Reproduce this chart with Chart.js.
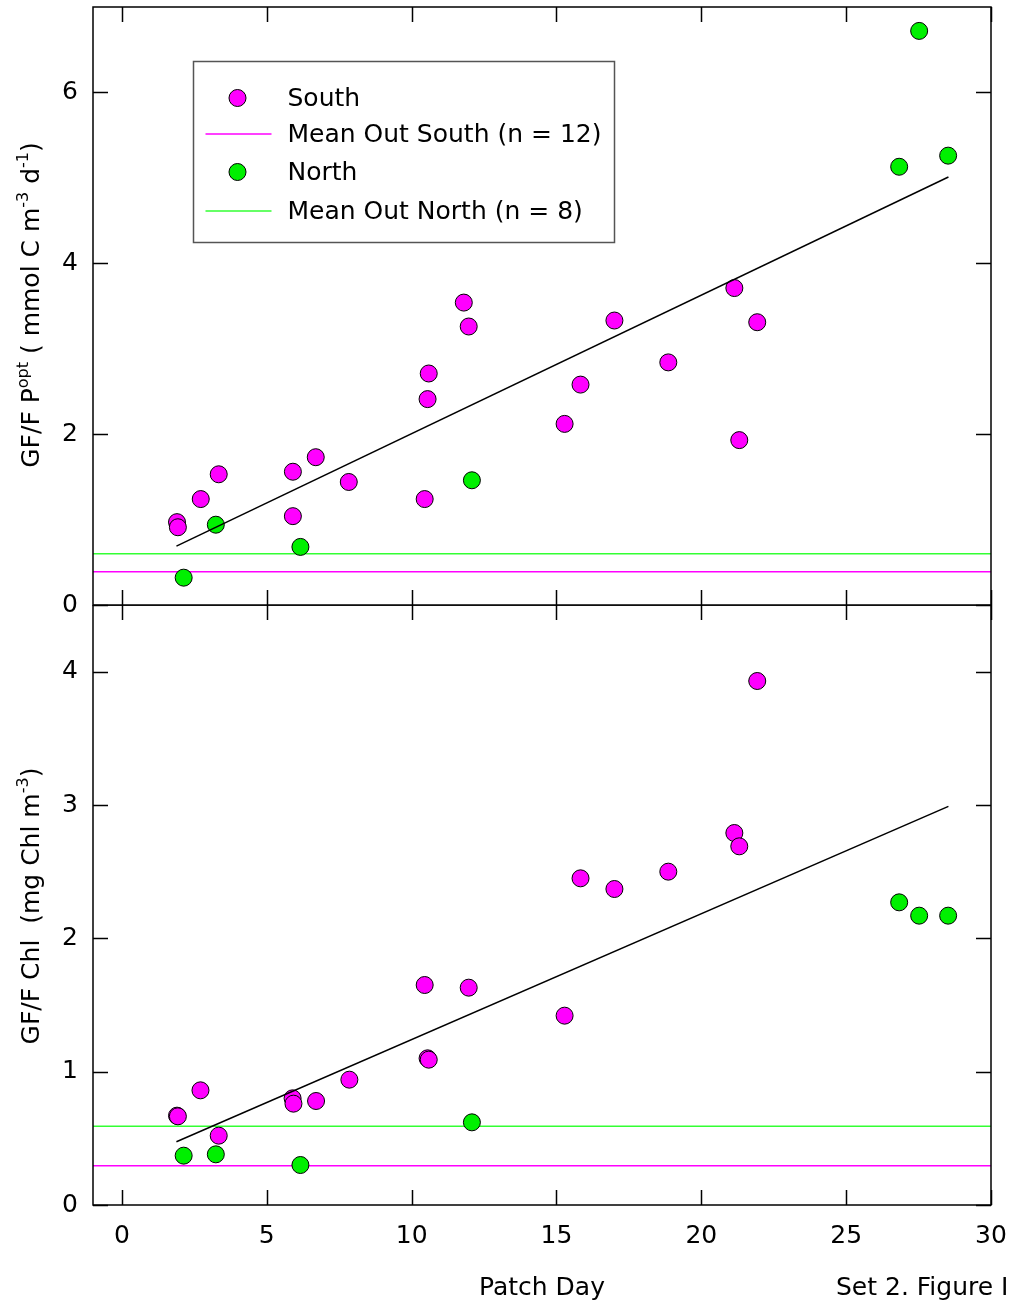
<!DOCTYPE html>
<html>
<head>
<meta charset="utf-8">
<script src="https://cdn.jsdelivr.net/npm/chart.js@4.4.1/dist/chart.umd.min.js"></script>
<style>
  html, body { margin:0; padding:0; background:#fff; }
  body { width:1013px; height:1308px; overflow:hidden; position:relative; font-family:"DejaVu Sans", Arial, sans-serif; color:#000; }
  canvas { position:absolute; left:0; }
  #topCanvas { top:0; }
  #botCanvas { top:605px; }
  .ytitle { position:absolute; width:500px; height:30px; line-height:30px; text-align:center; font-size:25px; white-space:nowrap; transform:rotate(-90deg); }
  .ytitle sup { font-size:16px; vertical-align:baseline; position:relative; top:-11px; }
  #note { position:absolute; left:836px; top:1272px; font-size:25px; white-space:nowrap; }
</style>
</head>
<body>
<canvas id="topCanvas" width="1013" height="640"></canvas>
<canvas id="botCanvas" width="1013" height="703"></canvas>
<div class="ytitle" style="left:-219px; top:290px;">GF/F P<sup>opt</sup> ( mmol C m<sup>-3</sup> d<sup>-1</sup>)</div>
<div class="ytitle" style="left:-219px; top:891px;">GF/F Chl&nbsp; (mg Chl m<sup>-3</sup>)</div>
<div id="note">Set 2. Figure I</div>
<script>
  // === Data ===
  const xTicks = [0, 5, 10, 15, 20, 25, 30];
  const topTicks = [0, 2, 4, 6];
  const botTicks = [0, 1, 2, 3, 4];
  const X_MIN = -1, X_MAX = 30;

  // top panel: GF/F P opt
  const southDayP = [1.9, 1.93, 2.72, 3.34, 5.9, 5.9, 6.69, 7.83, 10.45, 10.55, 10.59, 11.8, 11.97, 15.28, 15.83, 17.0, 18.86, 21.14, 21.31, 21.93];
  const southP    = [0.97, 0.91, 1.24, 1.53, 1.56, 1.04, 1.73, 1.44, 1.24, 2.41, 2.71, 3.54, 3.26, 2.12, 2.58, 3.33, 2.84, 3.71, 1.93, 3.31];
  const northDayP = [2.13, 3.24, 6.16, 12.08, 26.83, 27.52, 28.52];
  const northP    = [0.32, 0.94, 0.68, 1.46, 5.13, 6.72, 5.26];
  const meanSouthP = 0.39;
  const meanNorthP = 0.60;

  // bottom panel: GF/F Chl
  const southDayChl = [1.9, 1.93, 2.71, 3.34, 5.89, 5.92, 6.7, 7.85, 10.45, 10.55, 10.59, 11.97, 15.28, 15.83, 17.0, 18.86, 21.14, 21.31, 21.93];
  const southChl    = [0.67, 0.665, 0.86, 0.52, 0.80, 0.76, 0.78, 0.94, 1.65, 1.10, 1.09, 1.63, 1.42, 2.45, 2.37, 2.50, 2.79, 2.69, 3.93];
  const northDayChl = [2.13, 3.24, 6.16, 12.08, 26.83, 27.52, 28.52];
  const northChl    = [0.37, 0.38, 0.30, 0.62, 2.27, 2.17, 2.17];
  const meanSouthChl = 0.294;
  const meanNorthChl = 0.59;

  // regression lines (end points)
  const fitDays = [1.88, 28.53];
  const fitP = [0.69, 5.01];
  const fitChl = [0.474, 2.99];

  const MAGENTA = '#ff00ff';
  const GREEN = '#00f000';
  const FONT = '"DejaVu Sans", Arial, sans-serif';

  const pts = (xs, ys) => xs.map((x, i) => ({ x: x, y: ys[i] }));

  // frame, inside ticks and (optional) legend box
  const framePlugin = {
    id: 'frame',
    afterDraw(chart, args, opts) {
      const c = chart.ctx;
      const a = chart.chartArea;
      const xs = chart.scales.x, ys = chart.scales.y;
      const TL = 15;
      c.save();
      c.strokeStyle = '#000';
      c.lineWidth = 1.5;
      c.beginPath();
      for (const v of xTicks) {
        const px = Math.round(xs.getPixelForValue(v)) + 0.5;
        c.moveTo(px, a.top); c.lineTo(px, a.top + TL);
        c.moveTo(px, a.bottom); c.lineTo(px, a.bottom - TL);
      }
      for (const t of ys.ticks) {
        const py = Math.round(ys.getPixelForValue(t.value)) + 0.5;
        c.moveTo(a.left, py); c.lineTo(a.left + TL, py);
        c.moveTo(a.right, py); c.lineTo(a.right - TL, py);
      }
      c.stroke();
      c.strokeRect(a.left, a.top, a.right - a.left, a.bottom - a.top);

      if (opts.legend) {
        const L = opts.legend;
        c.strokeStyle = '#555';
        c.lineWidth = 1.5;
        c.strokeRect(L.x, L.y, L.w, L.h);
        const items = chart.data.datasets.filter(d => d.label !== 'fit');
        c.font = '25px ' + FONT;
        c.textBaseline = 'middle';
        items.forEach((d, i) => {
          const y = L.rows[i];
          if (d.showLine) {
            c.strokeStyle = d.borderColor;
            c.lineWidth = 1.5;
            c.beginPath(); c.moveTo(L.x + 12, y); c.lineTo(L.x + 78, y); c.stroke();
          } else {
            c.beginPath();
            c.arc(L.x + 44, y, 8.5, 0, 2 * Math.PI);
            c.fillStyle = d.backgroundColor; c.fill();
            c.strokeStyle = '#000'; c.lineWidth = 1; c.stroke();
          }
          c.fillStyle = '#000';
          c.fillText(d.label, L.x + 94, y + 1);
        });
      }
      c.restore();
    }
  };

  const noPad = s => { s.paddingTop = 0; s.paddingBottom = 0; s.paddingLeft = 0; s.paddingRight = 0; };

  function makeChart(id, cfg) {
    const datasets = [
      { label: 'South', data: pts(cfg.sx, cfg.sy), backgroundColor: MAGENTA, borderColor: '#000', borderWidth: 1, pointRadius: 8.5, order: 1 },
      { label: 'Mean Out South (n = 12)', data: pts([X_MIN, X_MAX], [cfg.ms, cfg.ms]), showLine: true, borderColor: MAGENTA, borderWidth: 1.5, pointRadius: 0, order: 2 },
      { label: 'North', data: pts(cfg.nx, cfg.ny), backgroundColor: GREEN, borderColor: '#000', borderWidth: 1, pointRadius: 8.5, order: 1 },
      { label: 'Mean Out North (n = 8)', data: pts([X_MIN, X_MAX], [cfg.mn, cfg.mn]), showLine: true, borderColor: '#33ff33', borderWidth: 1.5, pointRadius: 0, order: 2 },
      { label: 'fit', data: pts(fitDays, cfg.fit), showLine: true, borderColor: '#000', borderWidth: 1.5, pointRadius: 0, order: 0 }
    ];
    return new Chart(document.getElementById(id), {
      type: 'scatter',
      data: { datasets },
      options: {
        responsive: false,
        animation: false,
        events: [],
        layout: { autoPadding: false, padding: { top: cfg.padTop, right: 22, left: 0, bottom: 0 } },
        plugins: {
          legend: { display: false },
          tooltip: { enabled: false },
          frame: { legend: cfg.legend || null }
        },
        scales: {
          x: {
            type: 'linear', min: X_MIN, max: X_MAX,
            afterBuildTicks: s => { s.ticks = xTicks.map(v => ({ value: v })); },
            afterFit: s => { s.height = cfg.xh; noPad(s); },
            grid: { display: false, drawTicks: false },
            border: { display: false },
            ticks: { display: cfg.showX, color: '#000', font: { size: 25, family: FONT }, padding: 16, maxRotation: 0, autoSkip: false },
            title: { display: cfg.showX, text: 'Patch Day', color: '#000', font: { size: 25, family: FONT }, padding: { top: 0, bottom: 5 } }
          },
          y: {
            type: 'linear', min: 0, max: cfg.ymax,
            afterBuildTicks: s => { s.ticks = cfg.yTicks.map(v => ({ value: v })); },
            afterFit: s => { s.width = 93; noPad(s); },
            grid: { display: false, drawTicks: false },
            border: { display: false },
            ticks: { color: '#000', font: { size: 25, family: FONT }, padding: 15 }
          }
        }
      },
      plugins: [framePlugin]
    });
  }

  makeChart('topCanvas', {
    sx: southDayP, sy: southP, nx: northDayP, ny: northP,
    ms: meanSouthP, mn: meanNorthP, fit: fitP,
    ymax: 7, yTicks: topTicks, padTop: 7, xh: 35, showX: false,
    legend: { x: 193.5, y: 61.5, w: 421, h: 181, rows: [98, 134, 172, 211] }
  });

  makeChart('botCanvas', {
    sx: southDayChl, sy: southChl, nx: northDayChl, ny: northChl,
    ms: meanSouthChl, mn: meanNorthChl, fit: fitChl,
    ymax: 4.5, yTicks: botTicks, padTop: 0, xh: 103, showX: true
  });
</script>
</body>
</html>
